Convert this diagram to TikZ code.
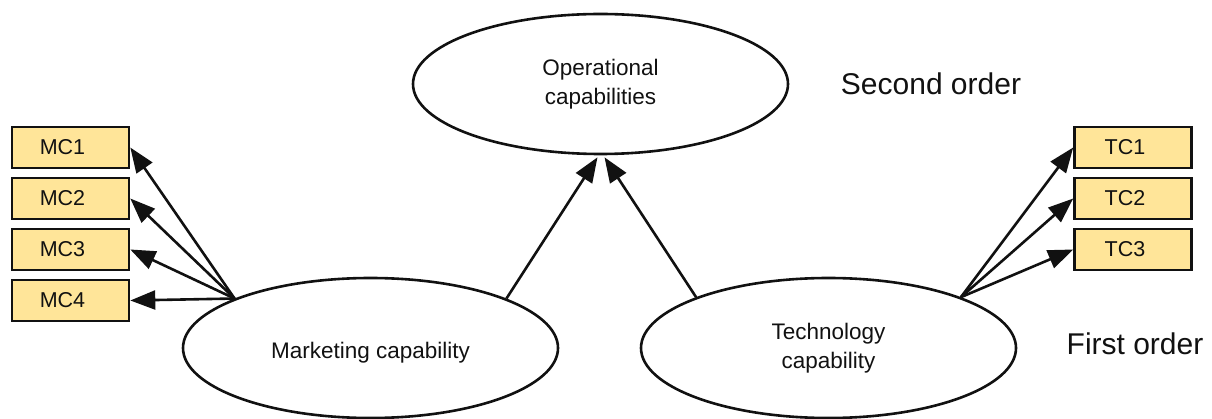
\documentclass[tikz,border=0pt]{standalone}
\usepackage{fontspec}
\setmainfont{Liberation Sans}
\usetikzlibrary{shapes.geometric,arrows.meta}
\definecolor{boxfill}{HTML}{FFE599}
\definecolor{ink}{HTML}{111111}
\begin{document}
\begin{tikzpicture}[x=1pt,y=-1pt,
  latent/.style={ellipse, draw=ink, line width=2.6pt, minimum width=375pt,
    minimum height=140pt, inner sep=0pt, align=center, text=ink,
    font=\fontsize{22.5}{29}\selectfont},
  indicator/.style={draw=ink, fill=boxfill, line width=2.6pt,
    minimum width=117pt, minimum height=41pt, inner sep=0pt},
  indtext/.style={text=ink, xshift=-8pt, font=\fontsize{21.5}{26}\selectfont},
  levellabel/.style={anchor=base, text=ink, font=\fontsize{30}{36}\selectfont},
  load/.style={draw=ink, line width=2.6pt, -{Triangle[length=25pt,width=19pt]}}]
  \useasboundingbox (0,0) rectangle (1212,419);

  % latent constructs
  \node[latent] (op)   at (600.5,84)  {Operational\\capabilities};
  \node[latent] (mkt)  at (370.5,348) {\raisebox{-10pt}[0pt][0pt]{Marketing capability}};
  \node[latent] (tech) at (828.5,348) {Technology\\capability};

  % marketing indicators
  \node[indicator, label={[indtext]center:MC1}] (mc1) at (70.5,147.5) {};
  \node[indicator, label={[indtext]center:MC2}] (mc2) at (70.5,198.5) {};
  \node[indicator, label={[indtext]center:MC3}] (mc3) at (70.5,249.5) {};
  \node[indicator, label={[indtext]center:MC4}] (mc4) at (70.5,300.5) {};

  % technology indicators
  \node[indicator, label={[indtext]center:TC1}] (tc1) at (1133,147.5) {};
  \node[indicator, label={[indtext]center:TC2}] (tc2) at (1133,198.5) {};
  \node[indicator, label={[indtext]center:TC3}] (tc3) at (1133,249.5) {};

  % order labels
  \node[levellabel] (second) at (931,95)  {Second order};
  \node[levellabel] (first)  at (1135,355) {First order};

  % loadings
  \foreach \m in {mc1,mc2,mc3,mc4}
    \draw[load] (mkt.160) -- (\m.east);
  \foreach \t in {tc1,tc2,tc3}
    \draw[load] (tech.21) -- (\t.west);

  % second-order paths
  \draw[load] (mkt.20.5) -- ([xshift=-3pt,yshift=-2pt]op.south);
  \draw[load] (tech.159) -- ([xshift=4pt,yshift=-2pt]op.south);
\end{tikzpicture}
\end{document}
